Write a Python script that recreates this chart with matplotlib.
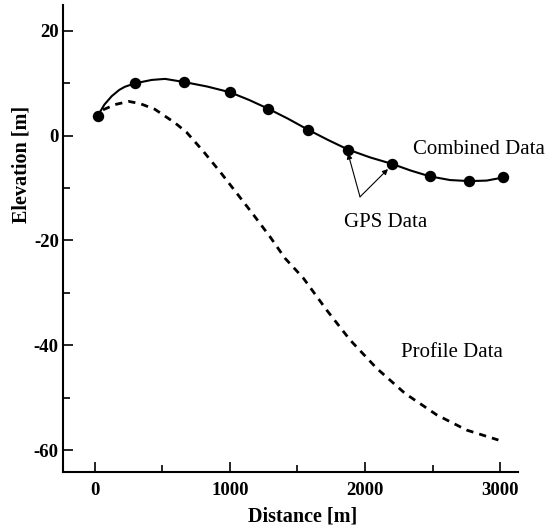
import matplotlib
matplotlib.use("Agg")
import matplotlib.pyplot as plt
from matplotlib.ticker import MultipleLocator

plt.rcParams['font.family'] = ['Liberation Serif', 'DejaVu Serif']
plt.rcParams['axes.unicode_minus'] = False

# GPS points
gps_x = [24, 296, 662, 1000, 1284, 1578, 1876, 2198, 2481, 2773, 3025]
gps_y = [3.8, 9.95, 10.2, 8.25, 5.1, 1.1, -2.7, -5.4, -7.8, -8.7, -8.0]

# combined curve
comb_x = [24, 40, 70, 124, 180, 222, 296, 420, 519, 661, 830, 1000, 1140, 1284,
          1430, 1578, 1730, 1876, 2040, 2198, 2340, 2481, 2630, 2773, 2901, 3025]
comb_y = [3.8, 4.6, 5.9, 7.5, 8.7, 9.3, 9.95, 10.6, 10.8, 10.2, 9.35, 8.25, 6.8, 5.1,
          3.2, 1.1, -0.9, -2.7, -4.2, -5.4, -6.7, -7.8, -8.5, -8.7, -8.6, -8.0]

# profile curve (dashed)
prof_x = [60, 148, 250, 333, 444, 593, 679, 802, 926, 1050, 1173, 1296,
          1407, 1543, 1716, 1889, 2086, 2296, 2531, 2753, 2988]
prof_y = [4.9, 5.9, 6.5, 6.1, 5.0, 2.4, 0.6, -3.0, -6.9, -11.0, -15.1, -19.3,
          -23.4, -27.2, -33.3, -39.0, -44.4, -49.2, -53.3, -56.2, -58.1]

fig = plt.figure(figsize=(5.57, 5.30), dpi=100)
ax = fig.add_axes([0.113, 0.1094, 0.817, 0.8812])

ax.plot(prof_x, prof_y, color='black', lw=2.0, linestyle=(0, (2.6, 2.2)))
ax.plot(comb_x, comb_y, color='black', lw=1.5)
ax.plot(gps_x, gps_y, 'o', color='black', markersize=7.2)

# labels on the curves
ax.text(2356, -3.5, 'Combined Data', fontsize=15, ha='left', va='baseline')
ax.text(2152, -17.4, 'GPS Data', fontsize=15, ha='center', va='baseline')
ax.text(2644, -42.3, 'Profile Data', fontsize=15, ha='center', va='baseline')

for px, py in [(1874, -3.4), (2170, -6.4)]:
    ax.annotate('', xy=(px, py), xytext=(1963, -11.7),
                arrowprops=dict(arrowstyle='-|>', color='black', lw=0.8,
                                mutation_scale=8, shrinkA=0, shrinkB=0))

ax.set_xlim(-237, 3133)
ax.set_ylim(-64.2, 24.9)

ax.spines['top'].set_visible(False)
ax.spines['right'].set_visible(False)
ax.spines['left'].set_linewidth(1.5)
ax.spines['bottom'].set_linewidth(1.5)

ax.xaxis.set_major_locator(MultipleLocator(1000))
ax.xaxis.set_minor_locator(MultipleLocator(500))
ax.yaxis.set_major_locator(MultipleLocator(20))
ax.yaxis.set_minor_locator(MultipleLocator(10))
ax.tick_params(which='both', direction='in', width=1.2)
ax.tick_params(which='major', length=7)
ax.tick_params(which='minor', length=5)
ax.tick_params(axis='y', pad=3)
ax.tick_params(axis='x', pad=7)
for lab in ax.get_xticklabels() + ax.get_yticklabels():
    lab.set_fontsize(13.5)
    lab.set_fontweight('bold')

fig.text(303 / 557, (530 - 521.5) / 530, 'Distance [m]', fontsize=14.5,
         fontweight='bold', ha='center', va='baseline')
fig.text(22 / 557, 1 - 164 / 530, 'Elevation [m]', fontsize=14.5,
         fontweight='bold', ha='center', va='center', rotation=90)

fig.savefig('out.png', dpi=100)
